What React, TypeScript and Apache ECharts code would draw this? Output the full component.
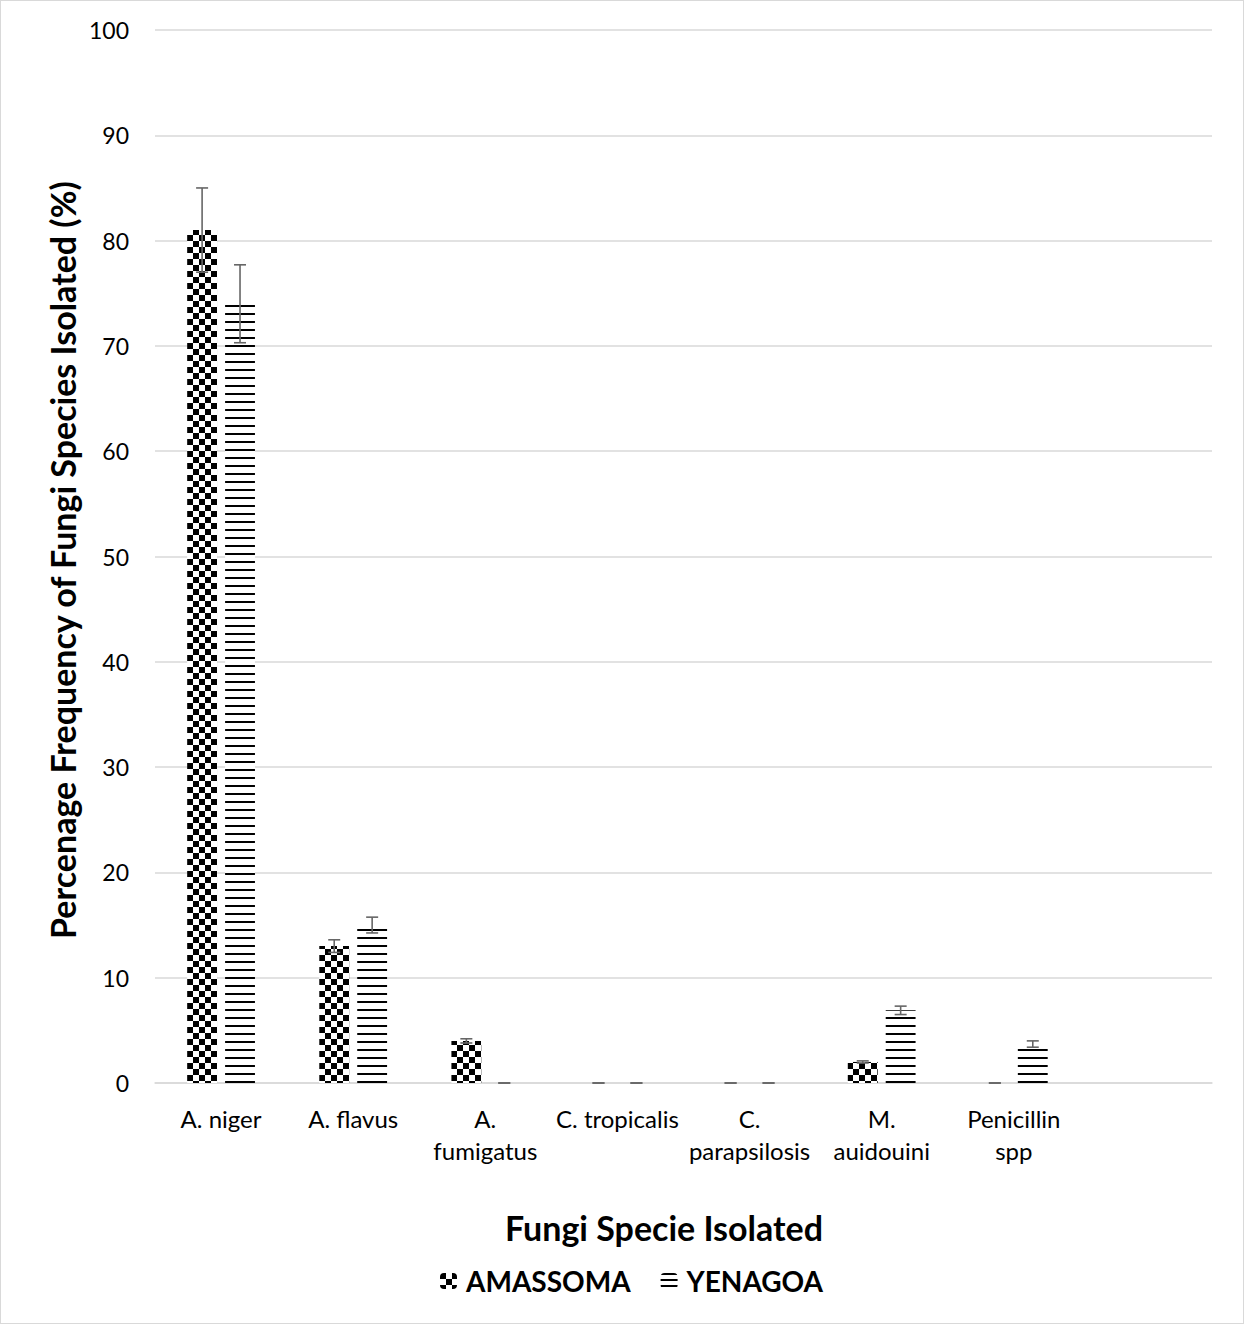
import React, { useEffect, useRef } from "react";
import * as echarts from "echarts";

const categories = ["A. niger", "A. flavus", "A.\nfumigatus", "C. tropicalis", "C.\nparapsilosis", "M.\nauidouini", "Penicillin\nspp", ""];
const amassoma: (number | null)[] = [81, 13, 4, 0, 0, 2, 0, null];
const yenagoa: (number | null)[] = [74, 15, 0, 0, 0, 6.9, 3.7, null];
const amassomaErr = [4, 0.6, 0.2, 0, 0, 0.1, 0];
const yenagoaErr = [3.7, 0.75, 0, 0, 0, 0.4, 0.3];
const yTicks = { min: 0, max: 100, interval: 10 };

const FONT = "Lato";
const BAR_FRAC = 0.226;
const GAP_FRAC = 0.27;

function makeChecker() {
  const c = document.createElement("canvas");
  c.width = 12;
  c.height = 12;
  const g = c.getContext("2d")!;
  g.fillStyle = "#ffffff";
  g.fillRect(0, 0, 12, 12);
  g.fillStyle = "#000000";
  g.fillRect(0, 0, 6, 6);
  g.fillRect(6, 6, 6, 6);
  return c;
}
function makeLines(period: number) {
  const c = document.createElement("canvas");
  c.width = 8;
  c.height = period;
  const g = c.getContext("2d")!;
  g.fillStyle = "#ffffff";
  g.fillRect(0, 0, 8, period);
  g.fillStyle = "#000000";
  g.fillRect(0, 0, 8, 2);
  return c;
}

function errSeries(name: string, vals: (number | null)[], errs: number[], sign: number) {
  const data = errs.map((e, i) => [i, vals[i] as number, e]);
  return {
    type: "custom",
    name: name + "_err",
    z: 10,
    silent: true,
    data,
    encode: { x: 0, y: 1 },
    renderItem: (params: any, api: any) => {
      const idx = api.value(0);
      const v = api.value(1);
      const e = api.value(2);
      const band = api.size([1, 0])[0];
      const w = band * BAR_FRAC;
      const off = (sign * (w + w * GAP_FRAC)) / 2;
      const top = api.coord([idx, v + e]);
      const bot = api.coord([idx, v - e]);
      const x = top[0] + off;
      const st = { stroke: "#666666", lineWidth: 1.6 };
      const cap = 6;
      return {
        type: "group",
        children: [
          { type: "line", shape: { x1: x, y1: top[1], x2: x, y2: bot[1] }, style: st },
          { type: "line", shape: { x1: x - cap, y1: top[1], x2: x + cap, y2: top[1] }, style: st },
          { type: "line", shape: { x1: x - cap, y1: bot[1], x2: x + cap, y2: bot[1] }, style: st },
        ],
      };
    },
  };
}

export default function App() {
  const ref = useRef<HTMLDivElement>(null);
  useEffect(() => {
    const chart = echarts.init(ref.current!, null, { renderer: "svg" });
    const checker = { image: makeChecker(), repeat: "repeat", imageWidth: 12, imageHeight: 12 };
    const lines = { image: makeLines(8), repeat: "repeat", imageWidth: 8, imageHeight: 8 };
    const legendLines = { image: makeLines(6), repeat: "repeat", imageWidth: 8, imageHeight: 6 };
    chart.setOption({
      animation: false,
      backgroundColor: "#ffffff",
      grid: { left: 154, right: 31, top: 29, bottom: 240, containLabel: false },
      legend: {
        data: [
          { name: "AMASSOMA" },
          { name: "YENAGOA", itemStyle: { color: legendLines } },
        ],
        top: 1261,
        left: 434,
        itemWidth: 17,
        itemHeight: 16,
        itemGap: 30,
        textStyle: { fontFamily: FONT, fontWeight: "bold", fontSize: 28, color: "#000", padding: [0, 0, 0, 4] },
      },
      xAxis: {
        type: "category",
        data: categories,
        axisLine: { show: true, lineStyle: { color: "#d9d9d9", width: 1.5 } },
        axisTick: { show: false },
        axisLabel: {
          interval: 0,
          margin: 19,
          fontFamily: FONT,
          fontSize: 24,
          lineHeight: 32,
          color: "#000",
        },
      },
      yAxis: {
        type: "value",
        min: yTicks.min,
        max: yTicks.max,
        interval: yTicks.interval,
        axisLine: { show: false },
        axisTick: { show: false },
        splitLine: { lineStyle: { color: "#d9d9d9", width: 1.5 } },
        axisLabel: { fontFamily: FONT, fontSize: 23, color: "#000", margin: 26 },
      },
      graphic: [
        {
          type: "text",
          x: 61,
          y: 559,
          rotation: Math.PI / 2,
          style: {
            text: "Percenage Frequency of Fungi Species Isolated (%)",
            fontFamily: FONT,
            fontWeight: "bold",
            fontSize: 34,
            fill: "#000",
            align: "center",
            verticalAlign: "middle",
          },
        },
        {
          type: "text",
          x: 663,
          y: 1226,
          style: {
            text: "Fungi Specie Isolated",
            fontFamily: FONT,
            fontWeight: "bold",
            fontSize: 34,
            fill: "#000",
            align: "center",
            verticalAlign: "middle",
          },
        },
      ],
      series: [
        {
          type: "bar",
          name: "AMASSOMA",
          data: amassoma,
          barWidth: BAR_FRAC * 100 + "%",
          barGap: GAP_FRAC * 100 + "%",
          itemStyle: { color: checker },
        },
        {
          type: "bar",
          name: "YENAGOA",
          data: yenagoa,
          barWidth: BAR_FRAC * 100 + "%",
          barGap: GAP_FRAC * 100 + "%",
          itemStyle: { color: lines },
        },
        errSeries("AMASSOMA", amassoma, amassomaErr, -1),
        errSeries("YENAGOA", yenagoa, yenagoaErr, 1),
      ],
    });
    return () => chart.dispose();
  }, []);
  return (
    <div
      style={{
        position: "absolute",
        left: 0,
        top: 0,
        width: 1244,
        height: 1324,
        border: "1px solid #d9d9d9",
        boxSizing: "border-box",
        background: "#fff",
      }}
    >
      <div ref={ref} style={{ width: 1242, height: 1322 }} />
    </div>
  );
}
